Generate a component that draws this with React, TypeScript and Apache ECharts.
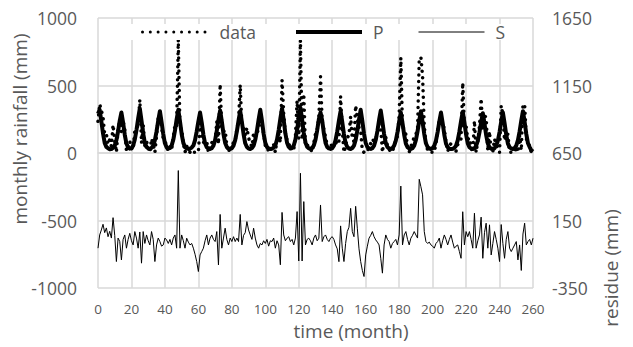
import React, { useEffect, useRef } from "react";
import * as echarts from "echarts";

// monthly rainfall data (mm), month 0..260
const rainfall = [
  235, 363, 315, 267, 135, 140, 65, 98, 50, 209,
  95, 5, 180, 234, 158, 235, 178, 15, 52, 87,
  35, 24, 168, 190, 200, 395, 74, 213, 55, 88,
  35, 5, 106, 65, 5, 129, 260, 304, 190, 109,
  92, 48, 13, 46, 24, 118, 208, 195, 840, 180,
  183, 75, 5, 53, 20, 5, 20, 5, 5, 6,
  7, 195, 145, 80, 72, 86, 5, 50, 79, 65,
  89, 233, 66, 510, 180, 160, 168, 55, 5, 50,
  30, 85, 89, 180, 234, 505, 199, 180, 132, 186,
  113, 73, 47, 148, 118, 134, 193, 300, 207, 142,
  55, 55, 5, 30, 26, 60, 5, 100, 139, 77,
  540, 288, 145, 95, 75, 27, 47, 25, 120, 388,
  108, 835, 98, 438, 47, 56, 53, 30, 6, 76,
  141, 168, 269, 565, 234, 175, 118, 55, 28, 50,
  66, 65, 64, 100, 85, 420, 175, 5, 52, 112,
  133, 270, 105, 85, 352, 258, 188, 166, 16, 5,
  5, 5, 53, 70, 104, 85, 102, 153, 214, 185,
  5, 109, 116, 54, 27, 5, 16, 48, 102, 124,
  275, 705, 191, 178, 138, 53, 5, 49, 76, 123,
  138, 180, 695, 710, 570, 208, 66, 24, 23, 5,
  5, 5, 72, 149, 252, 245, 222, 178, 80, 12,
  43, 72, 21, 5, 14, 62, 78, 106, 520, 195,
  205, 101, 111, 43, 5, 239, 5, 90, 196, 403,
  165, 278, 263, 15, 160, 5, 10, 103, 64, 37,
  5, 352, 280, 92, 145, 138, 5, 5, 5, 5,
  49, 5, 129, 20, 360, 360, 109, 66, 54, 5,
  29,
];

// periodic component P (mm)
const periodic = [
  290, 320, 235, 145, 75, 45, 35, 28, 30, 38,
  55, 95, 160, 240, 300, 225, 135, 70, 42, 32,
  35, 55, 100, 170, 255, 330, 240, 145, 75, 45,
  35, 30, 38, 55, 95, 160, 240, 310, 230, 140,
  72, 42, 33, 36, 55, 98, 165, 250, 320, 235,
  140, 75, 45, 34, 30, 32, 40, 55, 95, 160,
  235, 300, 225, 135, 72, 43, 33, 30, 36, 55,
  95, 165, 245, 315, 235, 140, 75, 45, 34, 30,
  36, 55, 95, 160, 240, 310, 230, 140, 72, 44,
  33, 30, 37, 55, 98, 165, 248, 320, 238, 142,
  75, 45, 34, 30, 32, 40, 56, 100, 170, 255,
  330, 245, 145, 76, 45, 33, 37, 56, 100, 172,
  258, 335, 248, 148, 78, 46, 34, 30, 37, 56,
  98, 168, 250, 300, 240, 145, 75, 45, 34, 30,
  36, 55, 95, 160, 240, 310, 230, 140, 72, 44,
  33, 30, 37, 55, 97, 165, 248, 320, 236, 142,
  74, 45, 34, 30, 36, 55, 96, 163, 245, 315,
  232, 140, 73, 44, 33, 30, 36, 54, 92, 155,
  232, 300, 222, 135, 70, 43, 33, 30, 36, 55,
  95, 160, 240, 310, 230, 140, 72, 44, 33, 30,
  36, 54, 92, 155, 232, 300, 222, 135, 70, 43,
  33, 29, 31, 38, 54, 93, 158, 236, 305, 226,
  137, 71, 43, 33, 30, 35, 53, 90, 153, 228,
  295, 218, 133, 70, 42, 33, 30, 35, 54, 92,
  155, 232, 300, 222, 135, 70, 43, 33, 30, 36,
  55, 95, 160, 240, 310, 230, 140, 72, 44, 20,
  10,
];

// residue S (mm), right axis
const residue = [
  -55, 43, 80, 122, 60, 95, 30, 70, 20, 171,
  40, -154, 20, -6, -142, 10, 43, -55, 10, 55,
  0, -31, 68, 20, -55, 65, -166, 68, -20, 43,
  0, -31, 68, 10, -154, -31, 20, -6, -40, -31,
  20, 6, -20, 10, -31, 20, 43, -55, 520, -55,
  43, 0, -55, 19, -10, -31, -20, -55, -100, -154,
  -228, -105, -80, -55, 0, 43, -31, 20, 43, 10,
  -6, 68, -179, 195, -55, 20, 93, 10, -31, 20,
  -6, 30, -6, 20, -6, 195, -31, 40, 60, 142,
  80, 43, 10, 93, 20, -31, -55, -20, -31, 0,
  -20, 10, -40, 0, -6, 20, -55, 0, -31, -178,
  210, 43, 0, 19, 30, -6, 10, -31, 20, 216,
  -150, 500, -150, 290, -31, 10, 19, 0, -31, 20,
  43, 0, 19, 265, -6, 30, 43, 10, -6, 20,
  30, 10, -31, -60, -155, 110, -55, -154, -20, 68,
  100, 240, 68, 30, 255, 93, -60, -154, -220, -265,
  -105, -40, 19, 40, 68, 30, 6, -10, -31, -130,
  -240, -31, 43, 10, -6, -55, -20, -6, 10, -31,
  43, 405, -31, 43, 68, 10, -31, 19, 40, 68,
  43, 20, 455, 400, 340, 68, -6, -20, -10, -31,
  -40, -55, -20, -6, 20, -55, 0, 43, 10, -31,
  10, 43, -10, -55, -40, -31, -80, -130, 215, -31,
  68, 30, 68, 10, -55, 204, -55, 0, 43, 175,
  -130, 60, 130, -55, 118, -105, -20, 68, 10, -55,
  -154, 120, -20, -130, 10, 68, -55, -80, -55, -31,
  -6, -142, -31, -220, 50, 130, -31, -6, 10, -31,
  19,
];

const seriesNames = ["data", "P", "S"];
const xTitle = "time (month)";
const leftTitle = "monthly rainfall (mm)";
const rightTitle = "residue (mm)";

export default function App() {
  const ref = useRef<HTMLDivElement>(null);
  useEffect(() => {
    const chart = echarts.init(ref.current!, null, { renderer: "svg" });
    const toPairs = (arr: number[]) => arr.map((v, i) => [i, v]);
    const grey = "#595959";
    const gridCol = "#d9d9d9";
    const font = "'Open Sans', sans-serif";
    const plain = (v: number) => String(v);
    const dataLine = { color: "#000", width: 3.5, type: [0.01, 6.5], cap: "round" };
    const pLine = { color: "#000", width: 4, join: "round" };
    const sLine = { color: "#000", width: 1 };
    const legendCommon = {
      top: 23,
      padding: 0,
      itemWidth: 66,
      itemHeight: 14,
      itemStyle: { opacity: 0 },
      textStyle: { color: grey, fontSize: 17.5, fontFamily: font, padding: [0, 0, 0, 6] },
    };
    chart.setOption({
      animation: false,
      textStyle: { fontFamily: font },
      grid: { left: 98, right: 100, top: 18, bottom: 59 },
      xAxis: {
        type: "value",
        min: 0,
        max: 260,
        interval: 20,
        axisLine: { lineStyle: { color: gridCol, width: 1.5 } },
        axisTick: { show: false },
        splitLine: { lineStyle: { color: gridCol, width: 1.5 } },
        axisLabel: { color: grey, fontSize: 13.5, margin: 14, fontFamily: font, formatter: plain },
      },
      yAxis: [
        {
          type: "value",
          min: -1000,
          max: 1000,
          interval: 500,
          axisLine: { show: false },
          axisTick: { show: false },
          splitLine: { lineStyle: { color: gridCol, width: 1.5 } },
          axisLabel: { color: grey, fontSize: 17.5, margin: 21, fontFamily: font, formatter: plain },
        },
        {
          type: "value",
          position: "right",
          min: -350,
          max: 1650,
          interval: 500,
          axisLine: { show: false },
          axisTick: { show: false },
          splitLine: { show: false },
          axisLabel: { color: grey, fontSize: 17.5, margin: 19, fontFamily: font, formatter: plain },
        },
      ],
      legend: [
        { ...legendCommon, left: 141, data: [seriesNames[0]], lineStyle: { ...dataLine, width: 3, type: [0.01, 7.8] } },
        { ...legendCommon, left: 294, data: [seriesNames[1]], lineStyle: pLine },
        { ...legendCommon, left: 418, data: [seriesNames[2]], lineStyle: sLine },
      ],
      graphic: [
        {
          type: "rect",
          z: 3,
          shape: { x: 124, y: 24, width: 380, height: 16 },
          style: { fill: "#ffffff" },
        },
        {
          type: "text",
          x: 20,
          y: 129,
          rotation: Math.PI / 2,
          style: { text: leftTitle, fill: grey, font: `19px ${font}`, align: "center", verticalAlign: "middle" },
        },
        {
          type: "text",
          x: 611,
          y: 268,
          rotation: Math.PI / 2,
          style: { text: rightTitle, fill: grey, font: `19px ${font}`, align: "center", verticalAlign: "middle" },
        },
        {
          type: "text",
          x: 351,
          y: 331,
          style: { text: xTitle, fill: grey, font: `19px ${font}`, align: "center", verticalAlign: "middle" },
        },
      ],
      series: [
        {
          name: seriesNames[0],
          type: "line",
          yAxisIndex: 0,
          data: toPairs(rainfall),
          symbol: "none",
          itemStyle: { color: "#000" },
          lineStyle: dataLine,
          z: 2,
        },
        {
          name: seriesNames[1],
          type: "line",
          yAxisIndex: 0,
          data: toPairs(periodic),
          symbol: "none",
          itemStyle: { color: "#000" },
          lineStyle: pLine,
          z: 2,
        },
        {
          name: seriesNames[2],
          type: "line",
          yAxisIndex: 1,
          data: toPairs(residue),
          symbol: "none",
          itemStyle: { color: "#000" },
          lineStyle: sLine,
          z: 2,
        },
      ],
    });
    return () => chart.dispose();
  }, []);
  return (
    <div
      ref={ref}
      style={{ position: "fixed", left: 0, top: 0, width: 633, height: 347, background: "#fff" }}
    />
  );
}
